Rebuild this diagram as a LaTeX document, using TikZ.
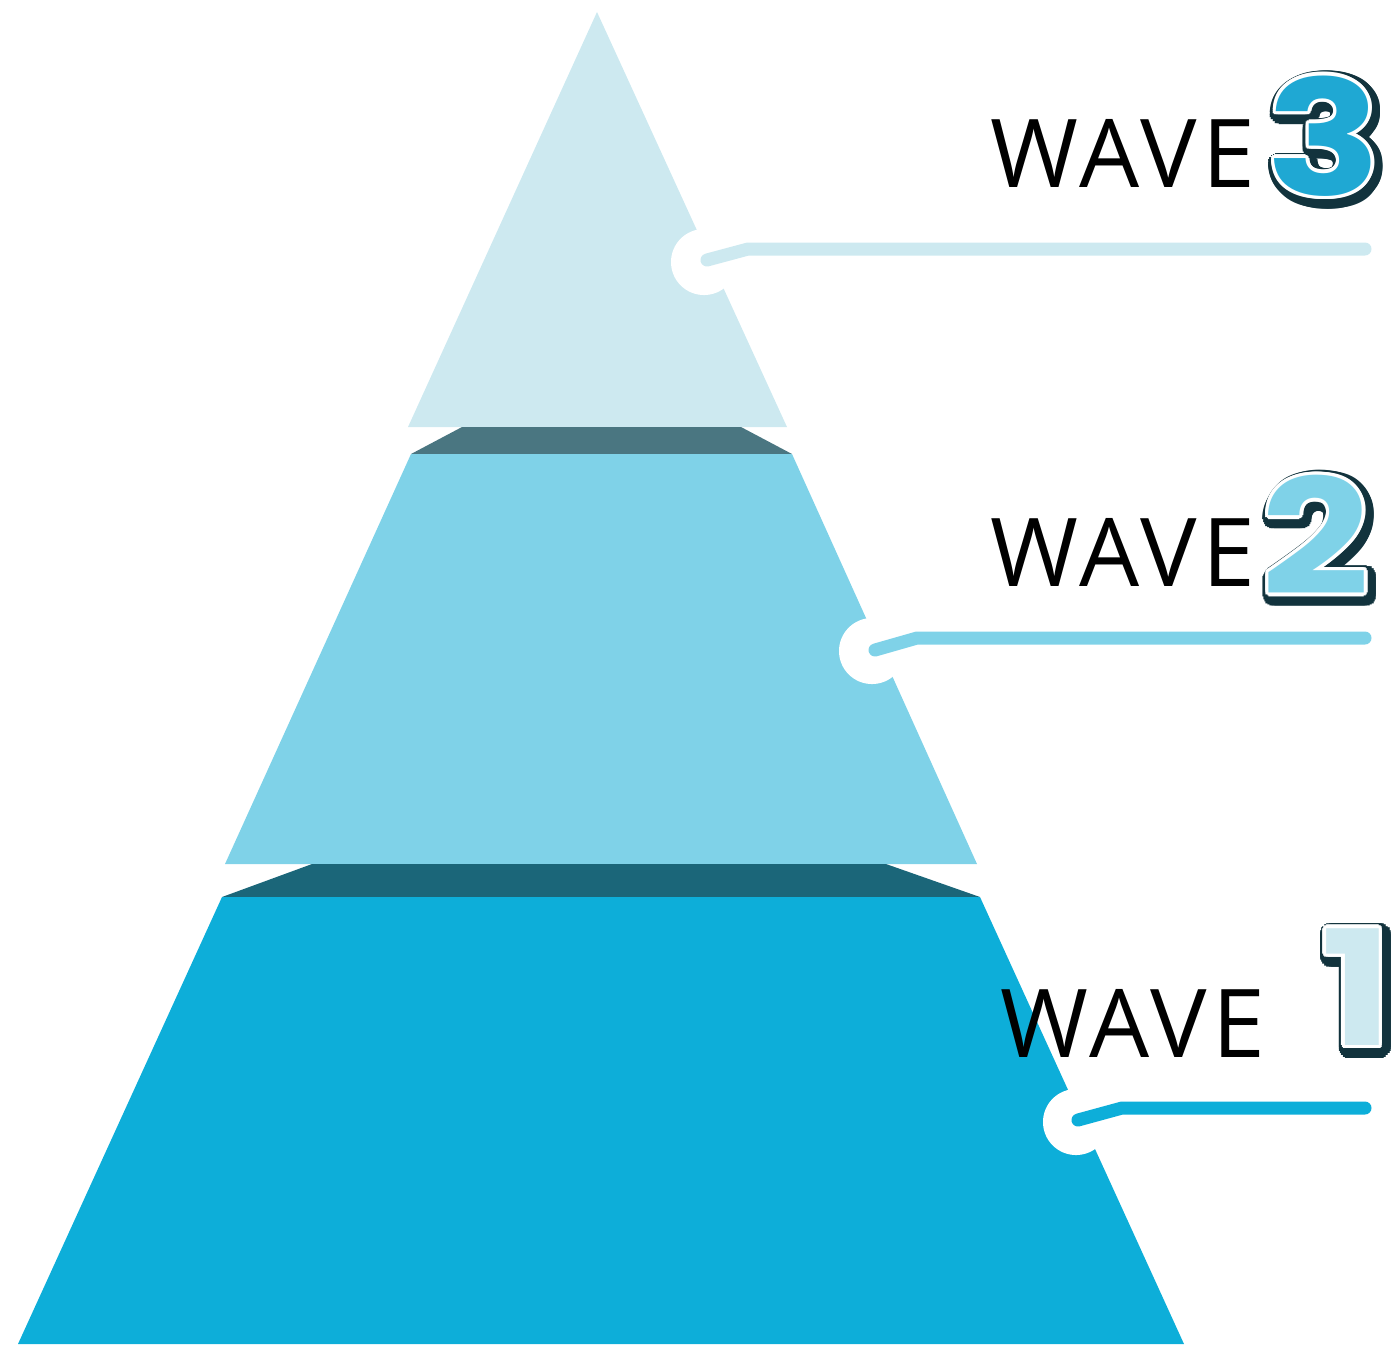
\documentclass[tikz,border=0pt]{standalone}
\usepackage{fontspec}
\setmainfont{Open Sans}
\newfontfamily\digitfont{Poppins}
\usetikzlibrary{calc}
\definecolor{lvlA}{HTML}{CDE9F0}
\definecolor{lvlB}{HTML}{7FD2E8}
\definecolor{lvlC}{HTML}{0DAED9}
\definecolor{bandA}{HTML}{4A7681}
\definecolor{bandB}{HTML}{1B6679}
\definecolor{ink}{HTML}{12333D}
\definecolor{numC}{HTML}{1FA8D3}
\tikzset{
  wave/.style={font=\fontsize{27}{30}\selectfont\addfontfeatures{LetterSpace=5.2}, inner sep=0pt, text=black, anchor=base west},
  digit/.style={font=\digitfont\bfseries\fontsize{50}{50}\selectfont, inner sep=0pt},
  dot/.style={fill=white, draw=none, circle, minimum size=0.66cm},
  leader/.style={line width=3.7pt, line cap=round, line join=round},
}
\newcommand\numglyph[1]{\scalebox{1.08}[0.91]{#1}}
\newcommand\bigdigit[4]{%
  \foreach \a in {0,15,...,345}{\node[digit,text=ink] at ($(#2)+(3,4)+(\a:9)$) {\numglyph{#3}};}
  \foreach \a in {0,30,...,330}{\node[digit,text=white] at ($(#2)+(\a:3.5)$) {\numglyph{#3}};}
  \node[digit,text=#4] (#1) at (#2) {\numglyph{#3}};}
\begin{document}
\begin{tikzpicture}[x=0.01cm,y=-0.01cm]
\useasboundingbox (0,0) rectangle (1394,1344);
\clip (0,0) rectangle (1394,1344);
% pyramid layers
\fill[lvlA] (597,12) -- (787,427) -- (408,427) -- cycle;
\fill[bandA] (462,427) -- (741,427) -- (792,454) -- (411,454) -- cycle;
\fill[lvlB] (411,454) -- (792,454) -- (977,864) -- (225,864) -- cycle;
\fill[bandB] (312,864) -- (886,864) -- (980,897) -- (222,897) -- cycle;
\fill[lvlC] (222,897) -- (980,897) -- (1184,1344) -- (18,1344) -- cycle;
% connectors
\node[dot] (d3) at (704,262) {};
\coordinate (k3) at (748,249);
\coordinate (e3) at (1365,249);
\draw[leader, lvlA] (d3.center) ++(3,-2) -- (k3) -- (e3);
\node[dot] (d2) at (872,651) {};
\coordinate (k2) at (917,638);
\coordinate (e2) at (1365,638);
\draw[leader, lvlB] (d2.center) ++(3,-1) -- (k2) -- (e2);
\node[dot] (d1) at (1076,1122) {};
\coordinate (k1) at (1122,1108);
\coordinate (e1) at (1365,1108);
\draw[leader, lvlC] (d1.center) ++(2,-2) -- (k1) -- (e1);
% labels
\node[wave] (w3) at (990,187) {WAVE};
\node[wave] (w2) at (990,586) {WAVE};
\node[wave] (w1) at (1000,1057) {WAVE};
\bigdigit{n3}{1324,136}{3}{numC}
\bigdigit{n2}{1316,535}{2}{lvlB}
\bigdigit{n1}{1357,987}{1}{lvlA}
\end{tikzpicture}
\end{document}
